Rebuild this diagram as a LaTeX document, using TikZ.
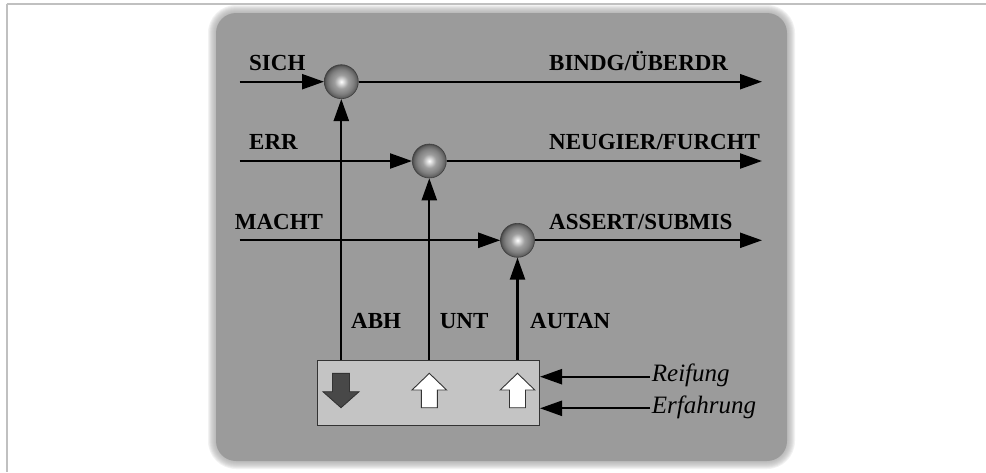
\documentclass[tikz,border=0pt]{standalone}
\usepackage{fontspec}
\setmainfont{Liberation Serif}
\usetikzlibrary{arrows.meta}
\definecolor{panelgray}{HTML}{9B9B9B}
\definecolor{boxgray}{HTML}{C4C4C4}
\definecolor{framegray}{HTML}{C0C0C0}
\definecolor{darkarrow}{HTML}{484848}
\pgfdeclareradialshading{myball}{\pgfpoint{0bp}{0bp}}{%
  color(0bp)=(white); color(4bp)=(black!15); color(10bp)=(black!38);
  color(18bp)=(black!50); color(23bp)=(black!62); color(25bp)=(black!72); color(50bp)=(black!72)}
\tikzset{
  arr/.style={line width=2.3pt, -{Triangle[length=22pt,width=15pt]}},
  ballnode/.style={circle, minimum size=34pt, inner sep=0pt, shading=myball, draw=black!75, line width=0.6pt},
  lab/.style={inner sep=0pt, anchor=base west, font=\fontsize{23}{26}\selectfont\bfseries},
  itlab/.style={inner sep=0pt, anchor=base west, font=\fontsize{25}{28}\selectfont\itshape},
  upar/.style={fill=white, draw=black!80, line width=0.9pt},
  downar/.style={fill=darkarrow, draw=black!80, line width=0.9pt}
}
\begin{document}
\begin{tikzpicture}[x=1pt,y=-1pt]
\useasboundingbox (0,0) rectangle (986,472);
% frame lines
\draw[framegray, line width=1.6pt] (6.7,4) -- (986,4);
\draw[framegray, line width=1.6pt] (6.7,4) -- (6.7,472);
% panel with soft edge
\foreach \i in {1,...,8}{
  \fill[panelgray, opacity=0.13, rounded corners={20pt+(9-\i)*1pt}]
    ({216-(9-\i)},{13-(9-\i)}) rectangle ({787+(9-\i)},{461+(9-\i)});
}
\fill[panelgray, rounded corners=20pt] (216,13) rectangle (787,461);
% balls
\node[ballnode] (b1) at (341.3,81.7) {};
\node[ballnode] (b2) at (429.3,161) {};
\node[ballnode] (b3) at (517.5,240.3) {};
% box
\node[draw=black!80, fill=boxgray, line width=1pt, minimum width=221.8pt, minimum height=64.5pt, inner sep=0pt] (box) at (428.6,392.75) {};
% coordinates
\coordinate (s1) at (239.6,81.7);
\coordinate (s2) at (239.6,161);
\coordinate (s3) at (239.6,240.3);
\coordinate (e1) at (762,81.7);
\coordinate (e2) at (762,161);
\coordinate (e3) at (762,240.3);
\coordinate (r1) at (650,376.7);
\coordinate (r2) at (650,408.3);
% horizontal connectors
\draw[arr] (s1) -- (b1.west);
\draw[arr] (s2) -- (b2.west);
\draw[arr] (s3) -- (b3.west);
\draw[arr] (b1.east) -- (e1);
\draw[arr] (b2.east) -- (e2);
\draw[arr] (b3.east) -- (e3);
% vertical connectors
\draw[arr] (b1 |- box.north) -- (b1.south);
\draw[arr] (b2 |- box.north) -- (b2.south);
\draw[arr] (b3 |- box.north) -- (b3.south);
% inputs to box
\draw[arr] (r1) -- (r1 -| box.east);
\draw[arr] (r2) -- (r2 -| box.east);
% arrows in box
\draw[downar] (332.5,373.3) -- (349.5,373.3) -- (349.5,391.7) -- (359,391.7) -- (341,407.7) -- (323,391.7) -- (332.5,391.7) -- cycle;
\foreach \cx in {429.3,517.5}{
  \draw[upar] (\cx,373.3) -- ({\cx+17.3},390) -- ({\cx+8},390) -- ({\cx+8},407.7) -- ({\cx-8},407.7) -- ({\cx-8},390) -- ({\cx-17.3},390) -- cycle;
}
% labels
\node[lab] (tSICH) at (249,70.7) {SICH};
\node[lab] (tERR) at (249,149) {ERR};
\node[lab] (tMACHT) at (234.7,229) {MACHT};
\node[lab] (tBIND) at (549,70.7) {BINDG/ÜBERDR};
\node[lab] (tNEU) at (549,149) {NEUGIER/FURCHT};
\node[lab] (tASS) at (549,229) {ASSERT/SUBMIS};
\node[lab] (tABH) at (351,328) {ABH};
\node[lab] (tUNT) at (439.6,328) {UNT};
\node[lab] (tAUT) at (530,328) {AUTAN};
\node[itlab] (tREI) at (651.7,381.7) {Reifung};
\node[itlab] (tERF) at (651.7,413.3) {Erfahrung};
\end{tikzpicture}
\end{document}
